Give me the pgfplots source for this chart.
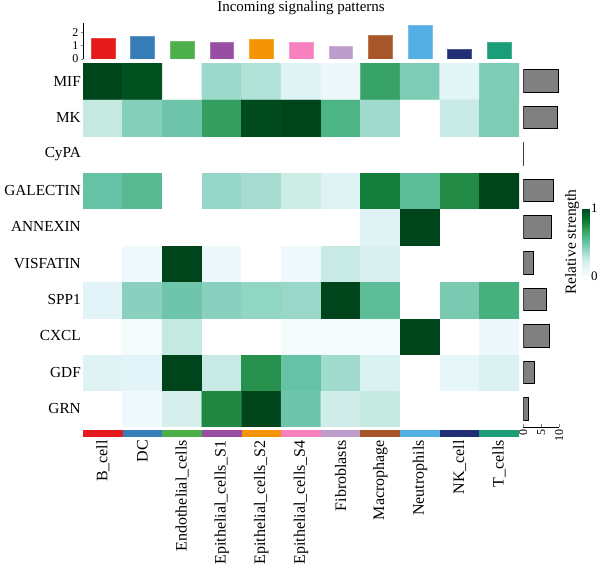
\documentclass[border=0pt]{standalone}
\usepackage{fontspec}
\setmainfont{Liberation Serif}
\usepackage{pgfplots}
\usepackage{pgfplotstable}
\pgfplotsset{compat=1.18}
\definecolor{cB}{HTML}{E41A1C}
\definecolor{cDC}{HTML}{377EB8}
\definecolor{cEn}{HTML}{4DAF4A}
\definecolor{cS1}{HTML}{984EA3}
\definecolor{cS2}{HTML}{F29403}
\definecolor{cS4}{HTML}{F781BF}
\definecolor{cFi}{HTML}{BC9DCC}
\definecolor{cMa}{HTML}{A65628}
\definecolor{cNe}{HTML}{54B0E4}
\definecolor{cNK}{HTML}{222F75}
\definecolor{cT}{HTML}{1B9E77}
\newcommand\rowfont{\fontsize{15.3bp}{18bp}\selectfont}
\newcommand\colfont{\fontsize{16bp}{19bp}\selectfont}
\newcommand\tickfont{\fontsize{12bp}{14bp}\selectfont}
% heatmap: x = cell group (0..10), y = pathway (0 = GRN ... 9 = MIF)
\pgfplotstableread{
x y c
0 0 0
1 0 0.06
2 0 0.20
3 0 0.76
4 0 1.00
5 0 0.48
6 0 0.23
7 0 0.27
8 0 0
9 0 0
10 0 0
0 1 0.15
1 1 0.13
2 1 1.00
3 1 0.26
4 1 0.73
5 1 0.50
6 1 0.35
7 1 0.18
8 1 0
9 1 0.11
10 1 0.17
0 2 0
1 2 0.03
2 2 0.27
3 2 0
4 2 0
5 2 0.03
6 2 0.03
7 2 0.03
8 2 1.00
9 2 0
10 2 0.07
0 3 0.13
1 3 0.41
2 3 0.48
3 3 0.41
4 3 0.39
5 3 0.37
6 3 1.00
7 3 0.53
8 3 0
9 3 0.45
10 3 0.60
0 4 0
1 4 0.06
2 4 1.00
3 4 0.08
4 4 0
5 4 0.06
6 4 0.26
7 4 0.19
8 4 0
9 4 0
10 4 0
0 5 0
1 5 0
2 5 0
3 5 0
4 5 0
5 5 0
6 5 0
7 5 0.15
8 5 1.00
9 5 0
10 5 0
0 6 0.50
1 6 0.55
2 6 0
3 6 0.38
4 6 0.34
5 6 0.25
6 6 0.15
7 6 0.80
8 6 0.53
9 6 0.75
10 6 1.00
0 7 0
1 7 0
2 7 0
3 7 0
4 7 0
5 7 0
6 7 0
7 7 0
8 7 0
9 7 0
10 7 0
0 8 0.27
1 8 0.42
2 8 0.48
3 8 0.68
4 8 0.98
5 8 1.00
6 8 0.58
7 8 0.35
8 8 0
9 8 0.26
10 8 0.44
0 9 1.00
1 9 0.96
2 9 0
3 9 0.36
4 9 0.31
5 9 0.15
6 9 0.07
7 9 0.66
8 9 0.44
9 9 0.14
10 9 0.44
}\heat
\begin{document}
\begin{tikzpicture}
\pgfplotsset{every axis/.append style={/pgf/number format/assume math mode=true}}
% ---------------- heatmap ----------------
\begin{axis}[
  at={(83bp,142bp)}, anchor=south west,
  width=436bp, height=364bp, scale only axis,
  xmin=-0.5, xmax=10.5, ymin=-0.5, ymax=9.5,
  axis line style={draw=none}, major tick length=0pt,
  xtick=\empty,
  ytick={0,...,9},
  yticklabels={GRN,GDF,CXCL,SPP1,VISFATIN,ANNEXIN,GALECTIN,CyPA,MK,MIF},
  yticklabel style={font=\rowfont, inner sep=2bp},
  colormap={bugn}{rgb255(0pt)=(255,255,255); rgb255(1pt)=(247,252,253);
    rgb255(12pt)=(229,245,249); rgb255(25pt)=(204,236,230); rgb255(37pt)=(153,216,201);
    rgb255(50pt)=(102,194,164); rgb255(62pt)=(65,174,118); rgb255(75pt)=(35,139,69);
    rgb255(87pt)=(0,109,44); rgb255(100pt)=(0,68,27)},
  point meta min=0, point meta max=1,
  colorbar,
  colorbar style={
    at={(parent axis.north east)}, anchor=north west,
    xshift=55bp, yshift=-145bp,
    width=7bp, height=68bp, scale only axis,
    axis line style={draw=none}, major tick length=0pt,
    ytick={0,1}, yticklabel style={font=\fontsize{13bp}{15bp}\selectfont, inner sep=1.5bp},
    ylabel={Relative strength},
    ylabel style={font=\fontsize{15.5bp}{18bp}\selectfont, at={(axis description cs:0,0.5)}, anchor=south, inner sep=3bp},
  },
]
\addplot[matrix plot*, mesh/cols=11, point meta=explicit] table[x=x, y=y, meta=c] {\heat};
\end{axis}
% ---------------- colour strip + column labels ----------------
\begin{axis}[
  at={(83bp,132bp)}, anchor=south west,
  width=436bp, height=7bp, scale only axis,
  xmin=-0.5, xmax=10.5, ymin=0, ymax=1,
  axis line style={draw=none}, major tick length=0pt,
  ytick=\empty, xtick={0,...,10},
  xticklabels={B\_cell,DC,Endothelial\_cells,Epithelial\_cells\_S1,Epithelial\_cells\_S2,Epithelial\_cells\_S4,Fibroblasts,Macrophage,Neutrophils,NK\_cell,T\_cells},
  xticklabel style={rotate=90, anchor=east, font=\colfont, inner sep=3bp},
]
\addplot[ybar, bar width=1, bar shift=0pt, fill=cB, draw=none] coordinates {(0,1)};
\addplot[ybar, bar width=1, bar shift=0pt, fill=cDC, draw=none] coordinates {(1,1)};
\addplot[ybar, bar width=1, bar shift=0pt, fill=cEn, draw=none] coordinates {(2,1)};
\addplot[ybar, bar width=1, bar shift=0pt, fill=cS1, draw=none] coordinates {(3,1)};
\addplot[ybar, bar width=1, bar shift=0pt, fill=cS2, draw=none] coordinates {(4,1)};
\addplot[ybar, bar width=1, bar shift=0pt, fill=cS4, draw=none] coordinates {(5,1)};
\addplot[ybar, bar width=1, bar shift=0pt, fill=cFi, draw=none] coordinates {(6,1)};
\addplot[ybar, bar width=1, bar shift=0pt, fill=cMa, draw=none] coordinates {(7,1)};
\addplot[ybar, bar width=1, bar shift=0pt, fill=cNe, draw=none] coordinates {(8,1)};
\addplot[ybar, bar width=1, bar shift=0pt, fill=cNK, draw=none] coordinates {(9,1)};
\addplot[ybar, bar width=1, bar shift=0pt, fill=cT, draw=none] coordinates {(10,1)};
\end{axis}
% ---------------- top bars ----------------
\begin{axis}[
  at={(83bp,510bp)}, anchor=south west,
  width=436bp, height=36.3bp, scale only axis,
  xmin=-0.5, xmax=10.5, ymin=0, ymax=2.7,
  axis x line=none, axis y line*=left,
  ytick={0,1,2}, tick align=outside, major tick length=2.5bp,
  yticklabel style={font=\tickfont, inner sep=2bp},
]
\addplot[ybar, bar width=0.6, bar shift=0pt, fill=cB, draw=cB!80!white] coordinates {(0,1.55)};
\addplot[ybar, bar width=0.6, bar shift=0pt, fill=cDC, draw=cDC!80!white] coordinates {(1,1.69)};
\addplot[ybar, bar width=0.6, bar shift=0pt, fill=cEn, draw=cEn!80!white] coordinates {(2,1.32)};
\addplot[ybar, bar width=0.6, bar shift=0pt, fill=cS1, draw=cS1!80!white] coordinates {(3,1.27)};
\addplot[ybar, bar width=0.6, bar shift=0pt, fill=cS2, draw=cS2!80!white] coordinates {(4,1.46)};
\addplot[ybar, bar width=0.6, bar shift=0pt, fill=cS4, draw=cS4!80!white] coordinates {(5,1.22)};
\addplot[ybar, bar width=0.6, bar shift=0pt, fill=cFi, draw=cFi!80!white] coordinates {(6,0.94)};
\addplot[ybar, bar width=0.6, bar shift=0pt, fill=cMa, draw=cMa!80!white] coordinates {(7,1.74)};
\addplot[ybar, bar width=0.6, bar shift=0pt, fill=cNe, draw=cNe!80!white] coordinates {(8,2.54)};
\addplot[ybar, bar width=0.6, bar shift=0pt, fill=cNK, draw=cNK!80!white] coordinates {(9,0.71)};
\addplot[ybar, bar width=0.6, bar shift=0pt, fill=cT, draw=cT!80!white] coordinates {(10,1.27)};
\end{axis}
\node[font=\fontsize{15bp}{18bp}\selectfont] at (301bp,561bp) {Incoming signaling patterns};
% ---------------- right bars ----------------
\begin{axis}[
  at={(523.3bp,142bp)}, anchor=south west,
  width=36bp, height=364bp, scale only axis,
  xmin=0, xmax=10, ymin=-0.5, ymax=9.5,
  axis y line=none, axis x line*=bottom,
  xtick={0,5,10}, tick align=inside, major tick length=3bp,
  xticklabel style={rotate=90, anchor=east, font=\tickfont, inner sep=2bp},
]
\addplot[xbar, bar width=0.62, bar shift=0pt, fill=gray, draw=black, line width=0.9pt]
  coordinates {(9.8,9) (9.35,8) (0.15,7) (8.4,6) (7.9,5) (2.8,4) (6.5,3) (7.2,2) (3.2,1) (1.5,0)};
\end{axis}
\pgfresetboundingbox
\path[use as bounding box] (0,0) rectangle (600bp,569bp);
\end{tikzpicture}
\end{document}
